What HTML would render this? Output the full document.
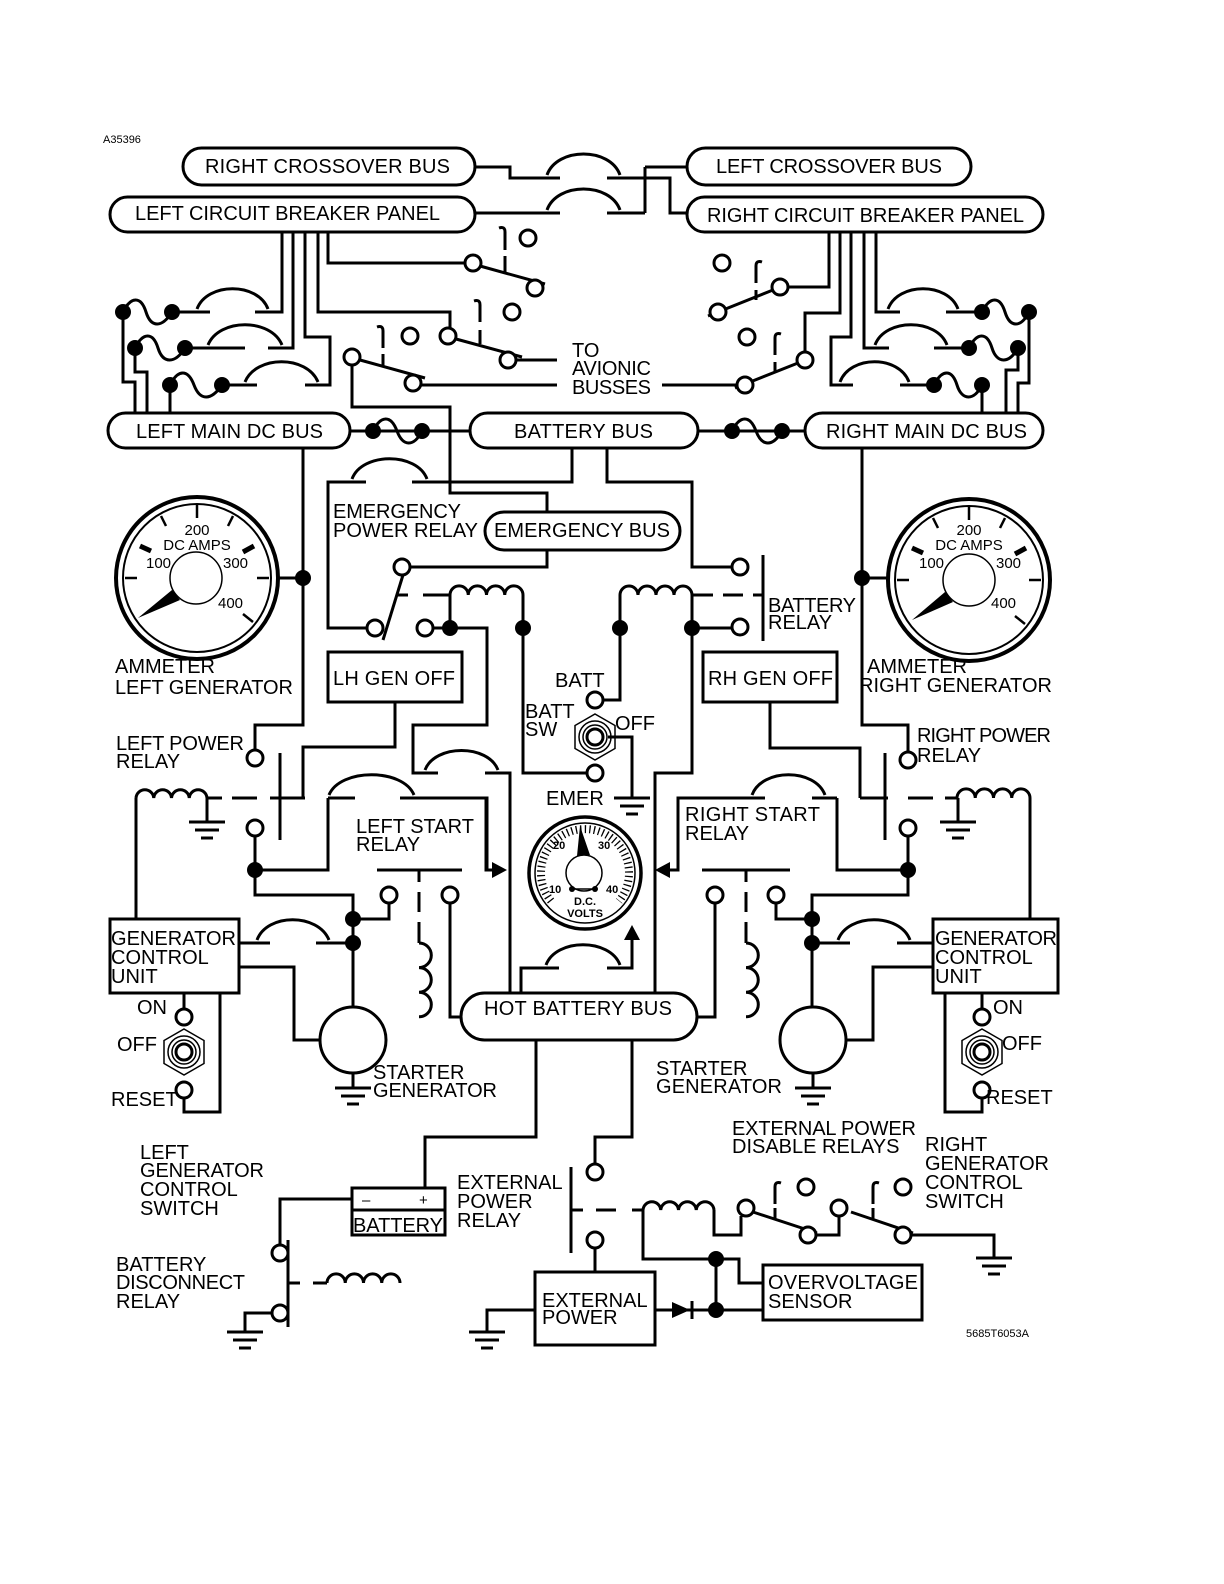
<!DOCTYPE html>
<html><head><meta charset="utf-8"><style>
html,body{margin:0;padding:0;background:#fff}
svg{display:block}
.w{fill:none;stroke:#000;stroke-width:3;stroke-linejoin:miter}
.p{fill:#fff;stroke:#000;stroke-width:3}
.t{font-family:"Liberation Sans",sans-serif;font-size:20px;fill:#000}
.s{font-family:"Liberation Sans",sans-serif;font-size:15px;fill:#000}
.v{font-family:"Liberation Sans",sans-serif;font-size:11px;fill:#000;font-weight:bold}
.d{fill:#000}
.c{fill:#fff;stroke:#000;stroke-width:3}
</style></head><body>
<svg width="1224" height="1584" viewBox="0 0 1224 1584" xmlns="http://www.w3.org/2000/svg">
<rect width="1224" height="1584" fill="#fff"/>
<text x="103" y="143" class="t" style="font-size:11px">A35396</text>

<!-- top wiring -->
<g class="w">
<path d="M473 167H510V178H560M607 178H670V213H687M645 167V213M645 167H687M473 213H560M607 213H645"/>
<path d="M547 175C557 147 610 147 620 175"/>
<path d="M547 210C557 182 610 182 620 210"/>
<!-- left cb verticals -->
<path d="M282 232V312H255M293 232V348H268M305 232V337H330V385H305M318 232V312H450V328M328 232V263H465"/>
<path d="M172 312H210M185 348H245M222 385H257"/>
<path d="M197 309C207 282 258 282 268 309"/>
<path d="M208 345C219 318 271 318 282 345"/>
<path d="M245 382C256 355 307 355 318 382"/>
<path d="M123 312C131 296 141 296 146 312S162 328 172 312"/>
<path d="M135 348C143 332 153 332 158 348S175 364 185 348"/>
<path d="M170 385C178 369 188 369 194 385S211 401 222 385"/>
<path d="M123 312V382H135V413M135 348V372H147V413M170 385V413"/>
<!-- right cb verticals -->
<path d="M829 232V287H788M840 232V313H805V352M851 232V337H831V385H853M864 232V348H889M876 232V312H900"/>
<path d="M900 385H928M934 348H969M946 312H982"/>
<path d="M840 382C850 355 899 355 909 382"/>
<path d="M875 345C885 318 937 318 947 345"/>
<path d="M888 309C898 282 948 282 958 309"/>
<path d="M934 385C942 369 952 369 957 385S974 401 982 385"/>
<path d="M969 348C977 332 987 332 992 348S1009 364 1018 348"/>
<path d="M982 312C990 296 1000 296 1005 312S1021 328 1029 312"/>
<path d="M1029 312V383H1018V413M1018 348V370H1006V413M982 385V413"/>
<!-- left switches -->
<path d="M480 266L545 284M456 339L522 357M360 360L425 378"/>
<path d="M505 250V232Q505 226 499 228M505 256V272M480 322V305Q480 299 474 301M480 330V344M383 348V331Q383 325 377 327M383 354V366"/>
<path d="M516 360H557M421 385H557"/>
<!-- right switches -->
<path d="M773 290L708 316M798 363L735 388"/>
<path d="M756 283V266Q756 260 762 262M756 290V300M775 355V338Q775 332 781 334M775 362V372"/>
<path d="M737 385H662"/>
<!-- bus links -->
<path d="M350 431H470M698 431H805"/>
<path d="M373 431C381 415 391 415 397 431S414 447 422 431"/>
<path d="M732 431C740 415 750 415 756 431S773 447 782 431"/>
<!-- left main dc down -->
<path d="M303 448V725H255V750M277 578H303"/>
<path d="M862 448V725H908V752M887 578H862"/>
<!-- switch C to emergency -->
<path d="M352 365V407H450V493H547V512"/>
<path d="M547 550V567H410"/>
<path d="M383 640L403 575"/>
<path d="M367 628H328V482H366M412 482H572V448M607 448V482H692V567H732"/>
<path d="M352 479C362 452 417 452 427 479"/>
<!-- EPR coil -->
<path d="M397 595H408M423 595H450"/>
<path d="M450 595a9.1 9.1 0 0 1 18.25 0a9.1 9.1 0 0 1 18.25 0a9.1 9.1 0 0 1 18.25 0a9.1 9.1 0 0 1 18.25 0"/>
<path d="M450 595V628M433 628H487V725H413V773H438M523 595V773H587"/>
<path d="M485 773H510V993"/>
<path d="M425 770C435 744 488 744 498 770"/>
<!-- battery relay -->
<path d="M620 595a9 9 0 0 1 18 0a9 9 0 0 1 18 0a9 9 0 0 1 18 0a9 9 0 0 1 18 0"/>
<path d="M692 595H713M723 595H743M753 595H763M763 555V641"/>
<path d="M620 595V700H603M692 595V773H655V993M692 628H732"/>
<path d="M608 737H632V798"/>
<!-- LH GEN OFF wiring -->
<path d="M395 702V747H303V798M770 702V748H860V798"/>
<!-- left power relay -->
<path d="M280 753V840"/>
<path d="M136 798a8.9 8.9 0 0 1 17.75 0a8.9 8.9 0 0 1 17.75 0a8.9 8.9 0 0 1 17.75 0a8.9 8.9 0 0 1 17.75 0"/>
<path d="M207 798V822M207 798H222M232 798H257M270 798H305"/>
<path d="M136 798V919"/>
<path d="M255 836V895H353V1007M353 919H389V903M328 798H355M400 798H487V870H493M328 798V870H255"/>
<path d="M329 795C340 768 403 768 414 795"/>
<!-- left start relay -->
<path d="M377 870H462M419 870V882M419 892V912M419 922V943"/>
<path d="M419 943a12.3 12.3 0 0 1 0 24.6a12.3 12.3 0 0 1 0 24.6a12.3 12.3 0 0 1 0 24.6"/>
<path d="M450 903V1017H461"/>
<path d="M239 943H270M316 943H353"/>
<path d="M257 940C267 913 318 913 329 940"/>
<path d="M239 967H294V1040H320"/>
<path d="M353 1073V1088"/>
<path d="M184 993V1009M184 1098V1112H220V993"/>
<!-- right power relay -->
<path d="M885 753V840"/>
<path d="M957 798a9.1 9.1 0 0 1 18.25 0a9.1 9.1 0 0 1 18.25 0a9.1 9.1 0 0 1 18.25 0a9.1 9.1 0 0 1 18.25 0"/>
<path d="M860 798H888M908 798H933M945 798H957M958 798V822M1030 798V919"/>
<path d="M908 836V895H812V1007M812 919H776V903M837 798V870H908M812 798H837M765 798H678V870H670"/>
<path d="M752 795C762 768 815 768 825 795"/>
<!-- right start relay -->
<path d="M702 870H790M746 870V882M746 892V912M746 922V943"/>
<path d="M746 943a12.3 12.3 0 0 1 0 24.6a12.3 12.3 0 0 1 0 24.6a12.3 12.3 0 0 1 0 24.6"/>
<path d="M715 903V1017H697"/>
<path d="M812 943H850M897 943H933"/>
<path d="M838 940C848 913 900 913 910 940"/>
<path d="M933 967H873V1040H846"/>
<path d="M813 1073V1088"/>
<path d="M982 993V1009M982 1098V1112H945V993"/>
<!-- center arcs/arrows -->
<path d="M486 798V870H492"/>
<path d="M521 993V968H559M607 968H632V940"/>
<path d="M546 965C556 938 610 938 620 965"/>
<!-- bottom -->
<path d="M536 1040V1137H425V1188M632 1040V1137H595V1172"/>
<path d="M352 1199H280V1245M288 1240V1327M280 1321V1313H245V1332"/>
<path d="M288 1283H300M313 1283H327"/>
<path d="M327 1283a9.1 9.1 0 0 1 18.25 0a9.1 9.1 0 0 1 18.25 0a9.1 9.1 0 0 1 18.25 0a9.1 9.1 0 0 1 18.25 0"/>
<path d="M571 1167V1253M571 1210H583M596 1210H616M632 1210H643"/>
<path d="M643 1210a8.9 8.9 0 0 1 17.75 0a8.9 8.9 0 0 1 17.75 0a8.9 8.9 0 0 1 17.75 0a8.9 8.9 0 0 1 17.75 0"/>
<path d="M595 1248V1272M714 1210V1235H741V1216M753 1212L817 1233M816 1235H839V1216M851 1212L913 1233M911 1235H994V1258"/>
<path d="M775 1204V1187Q775 1181 781 1183M775 1208V1220M873 1204V1187Q873 1181 879 1183M873 1208V1220"/>
<path d="M643 1210V1259H739V1283H763M716 1259V1310M655 1310H763M535 1310H487V1332"/>
</g>
<!-- grounds -->
<g class="w">
<path d="M189 822H225M195 830H219M201 838H213"/>
<path d="M940 822H976M946 830H970M952 838H964"/>
<path d="M614 798H650M620 806H644M626 814H638"/>
<path d="M335 1088H371M341 1096H365M347 1104H359"/>
<path d="M795 1088H831M801 1096H825M807 1104H819"/>
<path d="M227 1332H263M233 1340H257M239 1348H251"/>
<path d="M469 1332H505M475 1340H499M481 1348H493"/>
<path d="M976 1258H1012M982 1266H1006M988 1274H1000"/>
</g>
<!-- arrows & diode -->
<path class="d" d="M492 862L507 870L492 878Z"/>
<path class="d" d="M670 862L655 870L670 878Z"/>
<path class="d" d="M624 940L632 925L640 940Z"/>
<path class="d" d="M672 1302L690 1310L672 1318Z"/>
<path class="w" d="M692 1301V1319"/>

<!-- pills -->
<rect class="p" x="183" y="148" width="292" height="37" rx="18.5"/>
<rect class="p" x="687" y="148" width="284" height="37" rx="18.5"/>
<rect class="p" x="110" y="197" width="365" height="35" rx="17.5"/>
<rect class="p" x="687" y="197" width="356" height="35" rx="17.5"/>
<rect class="p" x="108" y="413" width="242" height="35" rx="17.5"/>
<rect class="p" x="470" y="413" width="228" height="35" rx="17.5"/>
<rect class="p" x="805" y="413" width="238" height="35" rx="17.5"/>
<rect class="p" x="485" y="512" width="195" height="38" rx="19"/>
<rect class="p" x="461" y="993" width="236" height="47" rx="23.5"/>
<text x="205" y="173" class="t" textLength="245">RIGHT CROSSOVER BUS</text>
<text x="716" y="173" class="t" textLength="226">LEFT CROSSOVER BUS</text>
<text x="135" y="220" class="t" textLength="305">LEFT CIRCUIT BREAKER PANEL</text>
<text x="707" y="222" class="t" textLength="317">RIGHT CIRCUIT BREAKER PANEL</text>
<text x="136" y="438" class="t" textLength="187">LEFT MAIN DC BUS</text>
<text x="514" y="438" class="t" textLength="139">BATTERY BUS</text>
<text x="826" y="438" class="t" textLength="201">RIGHT MAIN DC BUS</text>
<text x="494" y="537" class="t" textLength="176">EMERGENCY BUS</text>
<text x="484" y="1015" class="t" textLength="188">HOT BATTERY BUS</text>

<!-- boxes -->
<g class="w">
<rect x="328" y="652" width="134" height="50"/>
<rect x="703" y="652" width="134" height="50"/>
<rect x="110" y="919" width="129" height="74"/>
<rect x="933" y="919" width="125" height="74"/>
<rect x="352" y="1188" width="93" height="47"/>
<path d="M352 1210H445"/>
<rect x="535" y="1272" width="120" height="73"/>
<rect x="763" y="1265" width="159" height="55"/>
</g>
<text x="333" y="685" class="t" textLength="122">LH GEN OFF</text>
<text x="708" y="685" class="t" textLength="125">RH GEN OFF</text>
<text x="111" y="945" class="t" textLength="125">GENERATOR</text>
<text x="111" y="964" class="t">CONTROL</text>
<text x="111" y="983" class="t">UNIT</text>
<text x="935" y="945" class="t" textLength="122">GENERATOR</text>
<text x="935" y="964" class="t">CONTROL</text>
<text x="935" y="983" class="t">UNIT</text>
<text x="362" y="1205" class="s">–</text>
<text x="419" y="1205" class="s">+</text>
<text x="353" y="1232" class="t" textLength="90">BATTERY</text>
<text x="542" y="1307" class="t">EXTERNAL</text>
<text x="542" y="1324" class="t">POWER</text>
<text x="768" y="1289" class="t" textLength="150">OVERVOLTAGE</text>
<text x="768" y="1308" class="t">SENSOR</text>

<!-- circles (contacts) -->
<g class="c">
<circle cx="473" cy="263" r="8"/><circle cx="535" cy="288" r="8"/><circle cx="528" cy="238" r="8"/>
<circle cx="448" cy="336" r="8"/><circle cx="508" cy="360" r="8"/><circle cx="512" cy="312" r="8"/>
<circle cx="352" cy="357" r="8"/><circle cx="413" cy="383" r="8"/><circle cx="410" cy="336" r="8"/>
<circle cx="780" cy="287" r="8"/><circle cx="718" cy="312" r="8"/><circle cx="722" cy="263" r="8"/>
<circle cx="805" cy="360" r="8"/><circle cx="745" cy="385" r="8"/><circle cx="747" cy="337" r="8"/>
<circle cx="402" cy="567" r="8"/><circle cx="375" cy="628" r="8"/><circle cx="425" cy="628" r="8"/>
<circle cx="740" cy="567" r="8"/><circle cx="740" cy="627" r="8"/>
<circle cx="595" cy="700" r="8"/><circle cx="595" cy="773" r="8"/>
<circle cx="255" cy="758" r="8"/><circle cx="255" cy="828" r="8"/>
<circle cx="908" cy="760" r="8"/><circle cx="908" cy="828" r="8"/>
<circle cx="389" cy="895" r="8"/><circle cx="450" cy="895" r="8"/>
<circle cx="715" cy="895" r="8"/><circle cx="776" cy="895" r="8"/>
<circle cx="184" cy="1017" r="8"/><circle cx="184" cy="1090" r="8"/>
<circle cx="982" cy="1017" r="8"/><circle cx="982" cy="1090" r="8"/>
<circle cx="353" cy="1040" r="33"/><circle cx="813" cy="1040" r="33"/>
<circle cx="595" cy="1172" r="8"/><circle cx="595" cy="1240" r="8"/>
<circle cx="280" cy="1253" r="8"/><circle cx="280" cy="1313" r="8"/>
<circle cx="746" cy="1208" r="8"/><circle cx="808" cy="1235" r="8"/><circle cx="806" cy="1187" r="8"/>
<circle cx="839" cy="1208" r="8"/><circle cx="903" cy="1235" r="8"/><circle cx="903" cy="1187" r="8"/>
</g>
<!-- dots -->
<g class="d">
<circle cx="123" cy="312" r="8"/><circle cx="172" cy="312" r="8"/>
<circle cx="135" cy="348" r="8"/><circle cx="185" cy="348" r="8"/>
<circle cx="170" cy="385" r="8"/><circle cx="222" cy="385" r="8"/>
<circle cx="934" cy="385" r="8"/><circle cx="982" cy="385" r="8"/>
<circle cx="969" cy="348" r="8"/><circle cx="1018" cy="348" r="8"/>
<circle cx="982" cy="312" r="8"/><circle cx="1029" cy="312" r="8"/>
<circle cx="373" cy="431" r="8"/><circle cx="422" cy="431" r="8"/>
<circle cx="732" cy="431" r="8"/><circle cx="782" cy="431" r="8"/>
<circle cx="303" cy="578" r="8"/><circle cx="862" cy="578" r="8"/>
<circle cx="450" cy="628" r="8"/><circle cx="523" cy="628" r="8"/>
<circle cx="620" cy="628" r="8"/><circle cx="692" cy="628" r="8"/>
<circle cx="255" cy="870" r="8"/><circle cx="908" cy="870" r="8"/>
<circle cx="353" cy="919" r="8"/><circle cx="353" cy="943" r="8"/>
<circle cx="812" cy="919" r="8"/><circle cx="812" cy="943" r="8"/>
<circle cx="716" cy="1259" r="8"/><circle cx="716" cy="1310" r="8"/>
</g>

<!-- toggle switches -->
<g class="w" style="stroke-width:1.5">
<path d="M595 714L615 725.5V748.5L595 760L575 748.5V725.5Z"/>
<circle cx="595" cy="737" r="16"/><circle cx="595" cy="737" r="12"/><circle cx="595" cy="737" r="8" style="stroke-width:3"/>
<path d="M184 1029L204 1040.5V1063.5L184 1075L164 1063.5V1040.5Z"/>
<circle cx="184" cy="1052" r="16"/><circle cx="184" cy="1052" r="12"/><circle cx="184" cy="1052" r="8" style="stroke-width:3"/>
<path d="M982 1029L1002 1040.5V1063.5L982 1075L962 1063.5V1040.5Z"/>
<circle cx="982" cy="1052" r="16"/><circle cx="982" cy="1052" r="12"/><circle cx="982" cy="1052" r="8" style="stroke-width:3"/>
</g>

<!-- ammeters -->
<g>
<circle cx="197" cy="578" r="81" fill="#fff" stroke="#000" stroke-width="4"/>
<circle cx="197" cy="578" r="74" fill="none" stroke="#000" stroke-width="2"/>
<g stroke="#000" stroke-width="2.5">
<line x1="125" y1="578" x2="137" y2="578"/><line x1="140" y1="546" x2="151" y2="551" stroke-width="5"/>
<line x1="161" y1="516" x2="166" y2="526"/><line x1="197" y1="505" x2="197" y2="518"/>
<line x1="233" y1="516" x2="228" y2="526"/><line x1="254" y1="546" x2="243" y2="552" stroke-width="5"/>
<line x1="269" y1="578" x2="257" y2="578"/><line x1="253" y1="622" x2="243" y2="614"/>
</g>
<circle cx="196" cy="578" r="26" fill="#fff" stroke="#000" stroke-width="1.5"/>
<path class="d" d="M172 590L180 600L138 618Z"/>
<text x="197" y="535" class="s" text-anchor="middle">200</text>
<text x="197" y="550" class="s" text-anchor="middle">DC  AMPS</text>
<text x="146" y="568" class="s">100</text>
<text x="223" y="568" class="s">300</text>
<text x="218" y="608" class="s">400</text>
</g>
<g>
<circle cx="969" cy="580" r="81" fill="#fff" stroke="#000" stroke-width="4"/>
<circle cx="969" cy="580" r="74" fill="none" stroke="#000" stroke-width="2"/>
<g stroke="#000" stroke-width="2.5">
<line x1="897" y1="580" x2="909" y2="580"/><line x1="912" y1="548" x2="923" y2="553" stroke-width="5"/>
<line x1="933" y1="518" x2="938" y2="528"/><line x1="969" y1="507" x2="969" y2="520"/>
<line x1="1005" y1="518" x2="1000" y2="528"/><line x1="1026" y1="548" x2="1015" y2="554" stroke-width="5"/>
<line x1="1041" y1="580" x2="1029" y2="580"/><line x1="1025" y1="624" x2="1015" y2="616"/>
</g>
<circle cx="969" cy="580" r="26" fill="#fff" stroke="#000" stroke-width="1.5"/>
<path class="d" d="M945 592L953 602L912 620Z"/>
<text x="969" y="535" class="s" text-anchor="middle">200</text>
<text x="969" y="550" class="s" text-anchor="middle">DC  AMPS</text>
<text x="919" y="568" class="s">100</text>
<text x="996" y="568" class="s">300</text>
<text x="991" y="608" class="s">400</text>
</g>

<!-- voltmeter -->
<g>
<circle cx="585" cy="873" r="56" fill="#fff" stroke="#000" stroke-width="3.5"/>
<circle cx="585" cy="873" r="50" fill="none" stroke="#000" stroke-width="1.5"/>
<path d="M551 901A44 44 0 1 1 619 901" fill="none" stroke="#000" stroke-width="8" stroke-dasharray="1.3 3.2"/>
<circle cx="584" cy="873" r="18" fill="#fff" stroke="#000" stroke-width="1.5"/>
<path class="d" d="M577 856L590 855L580 826Z"/>
<path class="w" d="M572 889H595" style="stroke-width:1.5"/>
<circle class="d" cx="572" cy="889" r="3"/><circle class="d" cx="595" cy="889" r="3"/>
<text x="553" y="849" class="v">20</text>
<text x="598" y="849" class="v">30</text>
<text x="549" y="893" class="v">10</text>
<text x="606" y="893" class="v">40</text>
<text x="585" y="905" class="v" text-anchor="middle">D.C.</text>
<text x="585" y="917" class="v" text-anchor="middle">VOLTS</text>
</g>

<!-- labels -->
<text x="572" y="357" class="t">TO</text>
<text x="572" y="375" class="t" textLength="79">AVIONIC</text>
<text x="572" y="394" class="t" textLength="79">BUSSES</text>
<text x="333" y="518" class="t" textLength="128">EMERGENCY</text>
<text x="333" y="537" class="t" textLength="145">POWER RELAY</text>
<text x="768" y="612" class="t" textLength="88">BATTERY</text>
<text x="768" y="629" class="t">RELAY</text>
<text x="555" y="687" class="t">BATT</text>
<text x="525" y="718" class="t">BATT</text>
<text x="525" y="736" class="t">SW</text>
<text x="615" y="730" class="t">OFF</text>
<text x="546" y="805" class="t">EMER</text>
<text x="115" y="673" class="t">AMMETER</text>
<text x="115" y="694" class="t" textLength="178">LEFT GENERATOR</text>
<text x="867" y="673" class="t">AMMETER</text>
<text x="859" y="692" class="t" textLength="193">RIGHT GENERATOR</text>
<text x="116" y="750" class="t" textLength="128">LEFT POWER</text>
<text x="116" y="768" class="t">RELAY</text>
<text x="917" y="742" class="t" textLength="134">RIGHT POWER</text>
<text x="917" y="762" class="t">RELAY</text>
<text x="356" y="833" class="t" textLength="118">LEFT START</text>
<text x="356" y="851" class="t">RELAY</text>
<text x="685" y="821" class="t" textLength="135">RIGHT START</text>
<text x="685" y="840" class="t">RELAY</text>
<text x="137" y="1014" class="t">ON</text>
<text x="117" y="1051" class="t">OFF</text>
<text x="111" y="1106" class="t">RESET</text>
<text x="993" y="1014" class="t">ON</text>
<text x="1002" y="1050" class="t">OFF</text>
<text x="986" y="1104" class="t">RESET</text>
<text x="373" y="1079" class="t">STARTER</text>
<text x="373" y="1097" class="t" textLength="124">GENERATOR</text>
<text x="656" y="1075" class="t">STARTER</text>
<text x="656" y="1093" class="t" textLength="126">GENERATOR</text>
<text x="140" y="1159" class="t">LEFT</text>
<text x="140" y="1177" class="t" textLength="124">GENERATOR</text>
<text x="140" y="1196" class="t">CONTROL</text>
<text x="140" y="1215" class="t">SWITCH</text>
<text x="116" y="1271" class="t">BATTERY</text>
<text x="116" y="1289" class="t" textLength="129">DISCONNECT</text>
<text x="116" y="1308" class="t">RELAY</text>
<text x="457" y="1189" class="t">EXTERNAL</text>
<text x="457" y="1208" class="t">POWER</text>
<text x="457" y="1227" class="t">RELAY</text>
<text x="732" y="1135" class="t" textLength="184">EXTERNAL POWER</text>
<text x="732" y="1153" class="t">DISABLE RELAYS</text>
<text x="925" y="1151" class="t">RIGHT</text>
<text x="925" y="1170" class="t" textLength="124">GENERATOR</text>
<text x="925" y="1189" class="t">CONTROL</text>
<text x="925" y="1208" class="t">SWITCH</text>
<text x="966" y="1337" class="t" style="font-size:11px">5685T6053A</text>
</svg>
</body></html>
